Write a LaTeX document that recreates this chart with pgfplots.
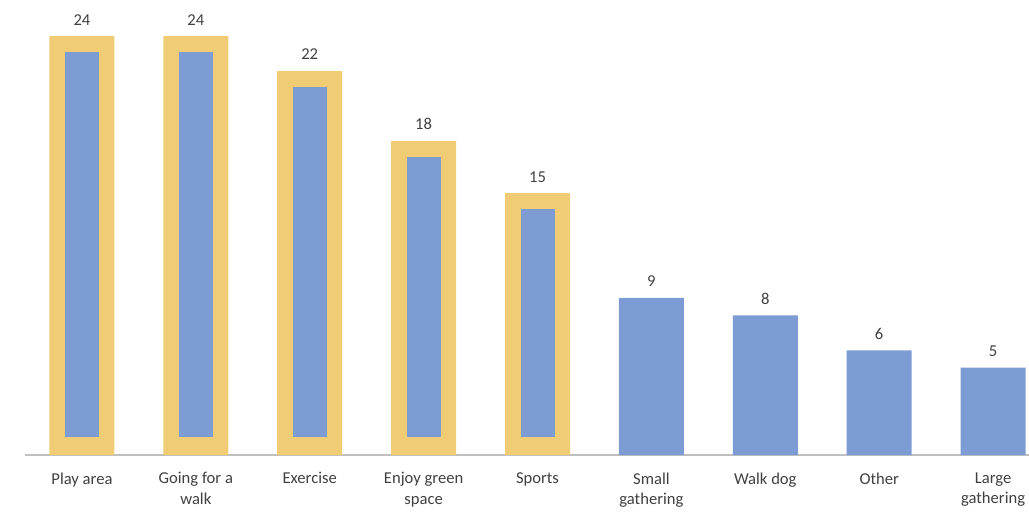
\documentclass[border=0pt]{standalone}
\usepackage{pgfplots}
\pgfplotsset{compat=1.18}
\usepackage{fontspec}
\setmainfont{Carlito}
\definecolor{barblue}{HTML}{7D9CD4}
\definecolor{bargold}{HTML}{F0CC75}
\definecolor{axisgray}{HTML}{BFBFBF}
\definecolor{txt}{HTML}{404040}
\begin{document}
\begin{tikzpicture}
\begin{axis}[
  scale only axis, width=1003.9pt, height=455pt,
  xmin=-0.5, xmax=8.314, ymin=0, ymax=26.07,
  axis y line=none,
  axis x line*=bottom,
  x axis line style={axisgray, line width=2pt},
  xtick={0,...,8},
  xticklabels={Play area,{Going for a\\walk},Exercise,{Enjoy green\\space},Sports,{Small\\gathering},Walk dog,Other,{Large\\gathering}},
  major tick length=0pt,
  ytick=\empty,
  xticklabel style={font=\fontsize{16.6}{20.5}\selectfont, text=txt, align=center, yshift=-14pt},
  ybar, bar width=65pt, bar shift=0pt,
  /pgf/number format/assume math mode=true,
  nodes near coords,
  every node near coord/.append style={font=\fontsize{16.6}{20}\selectfont, text=txt, yshift=7.5pt},
  clip=false,
]
\addplot[fill=bargold, draw=none,
  error bars/.cd, y dir=minus, y fixed relative=1, error mark=none,
  error bar style={barblue, line width=34pt, shorten <=16pt, shorten >=18pt}]
  coordinates {(0,24) (1,24) (2,22) (3,18) (4,15)};
\addplot[fill=barblue, draw=none]
  coordinates {(5,9) (6,8) (7,6) (8,5)};
\end{axis}
\pgfresetboundingbox
\path[use as bounding box] (-25pt,-57pt) rectangle (1004pt,455pt);
\end{tikzpicture}
\end{document}
